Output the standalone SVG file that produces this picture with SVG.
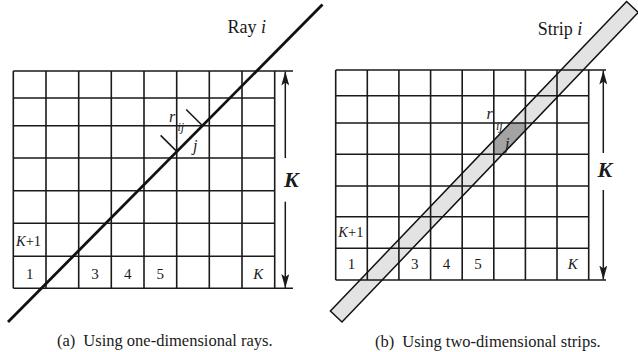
<svg xmlns="http://www.w3.org/2000/svg" width="638" height="352" viewBox="0 0 638 352">
<style>
text{font-family:"Liberation Serif","Times New Roman",serif;fill:#1a1a1a}
.grid{stroke:#1a1a1a;stroke-width:1.6;fill:none}
.tick{stroke:#1a1a1a;stroke-width:1.6;fill:none}
.arr{stroke:#1a1a1a;stroke-width:1.5;fill:none;marker-end:url(#ah)}
.num{font-size:15px;text-anchor:middle}
.it{font-style:italic}
.bigK{font-size:22px;font-style:italic;font-weight:bold}
.cap{font-size:16.5px}
.lab{font-size:18px}
</style>
<defs>
<marker id="ah" viewBox="0 0 14 8" refX="14" refY="4" markerWidth="14" markerHeight="8" markerUnits="userSpaceOnUse" orient="auto">
<path d="M0,0 L14,4 L0,8 L3,4 z" fill="#1a1a1a"/>
</marker>
</defs>

<g id="panel-a">
<g id="grid-a" class="grid">
<path d="M13.3,71H293 M13.3,98H274.7 M13.3,125.7H274.7 M13.3,158H274.7 M13.3,190.8H274.7 M13.3,223.3H274.7 M13.3,256.3H274.7 M13.3,288.3H293"/>
<path d="M13.3,71V288.3 M46,71V288.3 M78.7,71V288.3 M111.3,71V288.3 M144,71V288.3 M176.7,71V288.3 M209.3,71V288.3 M242,71V288.3 M274.7,71V288.3"/>
</g>
<g id="connectors-a">
<line x1="8" y1="322" x2="322.5" y2="4.5" stroke="#111" stroke-width="2.8"/>
<path class="tick" d="M202.6,125.7L186.2,109.5 M177,151.6L160.6,135.4"/>
<line class="arr" x1="285.3" y1="158" x2="285.3" y2="71.5"/>
<line class="arr" x1="285.3" y1="201.7" x2="285.3" y2="288"/>
</g>
<g id="labels-a">
<text class="lab" x="227.5" y="33">Ray <tspan class="it">i</tspan></text>
<text class="it" x="169" y="122" font-size="16">r</text>
<text class="it" x="177.5" y="130.5" font-size="12">ij</text>
<text class="it" x="193" y="151" font-size="16">j</text>
<text class="bigK" x="284" y="186.5">K</text>
<text x="16" y="245.5" font-size="14.5"><tspan class="it">K</tspan>+1</text>
<text class="num" x="29.7" y="278.5">1</text>
<text class="num" x="95" y="278.5">3</text>
<text class="num" x="127.7" y="278.5">4</text>
<text class="num" x="160.3" y="278.5">5</text>
<text class="num it" x="258.3" y="278.5">K</text>
<text class="cap" x="57" y="346">(a)<tspan dx="8">Using one-dimensional rays.</tspan></text>
</g>
</g>

<g id="panel-b">
<polygon id="strip-fill" points="330.4,311 626.6,1.5 638.2,12.5 342,322" fill="#e3e3e3" stroke="none"/>
<polygon id="cell-j" points="510.2,123 525.4,123 525.4,130.2 502.4,154.3 493.8,154.3 493.8,140.1" fill="#a3a3a3"/>
<g id="grid-b" class="grid">
<path d="M335.7,70H606 M335.7,95.7H588.7 M335.7,123H588.7 M335.7,154.3H588.7 M335.7,186H588.7 M335.7,216.7H588.7 M335.7,248.3H588.7 M335.7,280H606"/>
<path d="M335.7,70V280 M367.3,70V280 M398.9,70V280 M430.6,70V280 M462.2,70V280 M493.8,70V280 M525.4,70V280 M557,70V280 M588.7,70V280"/>
</g>
<g id="connectors-b">
<polygon id="strip" points="330.4,311 626.6,1.5 638.2,12.5 342,322" fill="none" stroke="#111" stroke-width="1.5"/>
<line class="arr" x1="603.3" y1="153" x2="603.3" y2="70.5"/>
<line class="arr" x1="603.3" y1="190" x2="603.3" y2="279.5"/>
</g>
<g id="labels-b">
<text class="lab" x="537.7" y="35">Strip <tspan class="it">i</tspan></text>
<text class="it" x="486.5" y="119" font-size="16">r</text>
<text class="it" x="496" y="130" font-size="12">ij</text>
<text class="it" x="505" y="148.5" font-size="16">j</text>
<text class="bigK" x="597.5" y="176.5">K</text>
<text x="338.3" y="237" font-size="14.5"><tspan class="it">K</tspan>+1</text>
<text class="num" x="351.5" y="269">1</text>
<text class="num" x="414.8" y="269">3</text>
<text class="num" x="446.4" y="269">4</text>
<text class="num" x="478" y="269">5</text>
<text class="num it" x="572.8" y="269">K</text>
<text class="cap" x="375" y="346.5">(b)<tspan dx="8">Using two-dimensional strips.</tspan></text>
</g>
</g>
</svg>
